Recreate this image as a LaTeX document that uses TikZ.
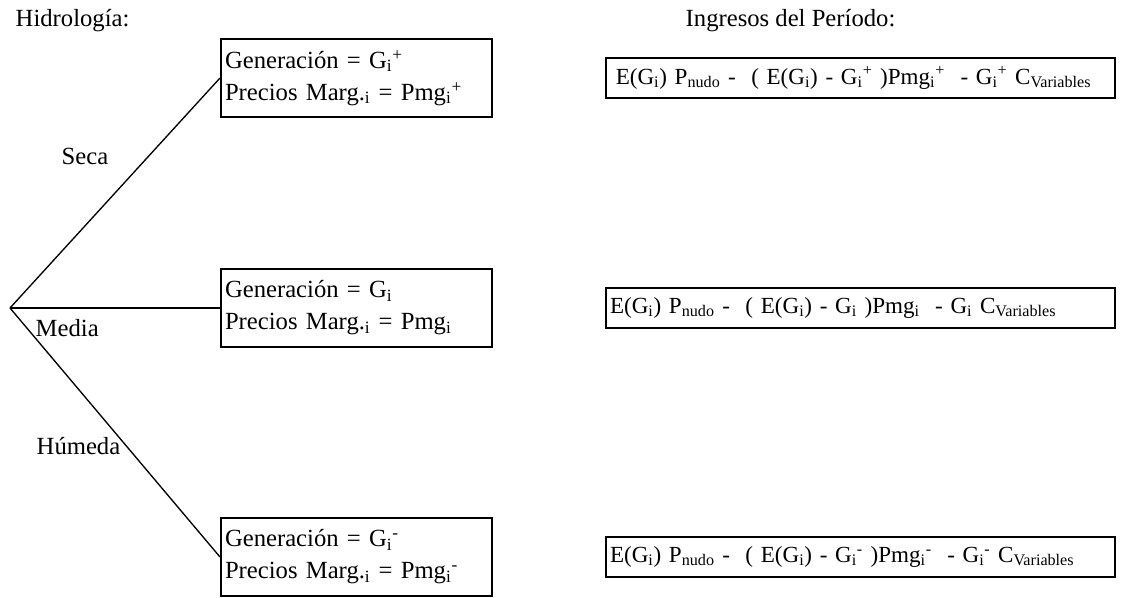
\documentclass[tikz,border=0pt]{standalone}
\usepackage{fontspec}
\setmainfont{Liberation Serif}
\usetikzlibrary{positioning}

\tikzset{
  escenario/.style={draw, line width=1.5pt, anchor=west, inner xsep=3pt, inner ysep=0pt,
    text width=197.25pt, minimum height=58.5pt, align=left},
  ingreso/.style={draw, line width=1.5pt, inner xsep=3pt, inner ysep=0pt,
    text width=375.75pt, minimum height=30pt, align=left,
    font=\fontsize{17.3pt}{22pt}\selectfont},
  rama/.style={line width=1pt},
}

\begin{document}
\begin{tikzpicture}[x=0.75pt, y=-0.75pt, font=\fontsize{18.5pt}{24pt}\selectfont, node distance=84pt]
  \useasboundingbox (0,0) rectangle (1144,597);

  \node[anchor=west] (hidro) at (11,21) {Hidrología:};
  \node[anchor=west] (ingresos) at (681,21) {Ingresos del Período:};

  \coordinate (raiz) at (10,308);

  % escenarios hidrologicos
  \node[escenario] (seca) at (220,78) {Generación = G\textsubscript{i}\textsuperscript{+}\\
    Precios Marg.\textsubscript{i} = Pmg\textsubscript{i}\textsuperscript{+}};
  \node[escenario] (media) at (220,308) {Generación = G\textsubscript{i}\\
    Precios Marg.\textsubscript{i} = Pmg\textsubscript{i}};
  \node[escenario] (humeda) at (220,557) {Generación = G\textsubscript{i}\textsuperscript{-}\\
    Precios Marg.\textsubscript{i} = Pmg\textsubscript{i}\textsuperscript{-}};

  \draw[rama] (raiz) -- (seca.west);
  \draw[rama] (raiz) -- (media.west);
  \draw[rama] (raiz) -- (humeda.west);

  \node (lseca) at (85,156) {Seca};
  \node[anchor=west] (lmedia) at (31,328) {Media};
  \node[anchor=west] (lhumeda) at (32,446) {Húmeda};

  % ingresos de cada escenario
  \node[ingreso, right=of seca] (iseca) {\hspace*{0.25em}E(G\textsubscript{i}) P\textsubscript{nudo} -~ ( E(G\textsubscript{i}) - G\textsubscript{i}\textsuperscript{+} )Pmg\textsubscript{i}\textsuperscript{+}~ - G\textsubscript{i}\textsuperscript{+} C\textsubscript{Variables}};
  \node[ingreso, right=of media] (imedia) {E(G\textsubscript{i}) P\textsubscript{nudo} -~ ( E(G\textsubscript{i}) - G\textsubscript{i} )Pmg\textsubscript{i}~ - G\textsubscript{i} C\textsubscript{Variables}};
  \node[ingreso, right=of humeda] (ihumeda) {E(G\textsubscript{i}) P\textsubscript{nudo} -~ ( E(G\textsubscript{i}) - G\textsubscript{i}\textsuperscript{-} )Pmg\textsubscript{i}\textsuperscript{-}~ - G\textsubscript{i}\textsuperscript{-} C\textsubscript{Variables}};
\end{tikzpicture}
\end{document}
